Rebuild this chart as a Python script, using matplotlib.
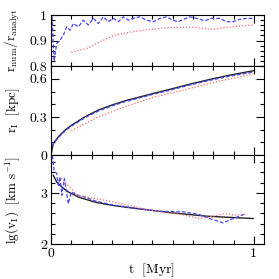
import numpy as np
import matplotlib
matplotlib.use('Agg')
import matplotlib.pyplot as plt
from matplotlib.ticker import MultipleLocator

plt.rcParams['font.family'] = 'cmr10'
plt.rcParams['mathtext.fontset'] = 'cm'
plt.rcParams['axes.unicode_minus'] = False
plt.rcParams['font.size'] = 10

# ratio r_num / r_analyt
t_ratio_num = [0.005, 0.015, 0.028, 0.044, 0.061, 0.077, 0.094, 0.11, 0.135, 0.159, 0.184,
               0.209, 0.233, 0.258, 0.282, 0.307, 0.332, 0.356, 0.381, 0.405, 0.438, 0.471,
               0.504, 0.537, 0.57, 0.60, 0.627, 0.652, 0.685, 0.718, 0.759, 0.79, 0.833,
               0.865, 0.898, 0.93, 0.964, 0.997]
ratio_num = [0.995, 0.82, 0.889, 0.902, 0.922, 0.954, 0.941, 0.967, 0.954, 0.98, 0.961,
             0.987, 0.967, 0.993, 0.974, 0.987, 0.974, 0.993, 0.98, 0.987, 0.993, 0.98,
             0.974, 0.987, 0.993, 0.98, 0.974, 0.983, 0.993, 0.987, 0.978, 0.987, 0.987,
             0.974, 0.974, 0.983, 0.987, 0.987]
t_ratio_alt = [0.10, 0.176, 0.24, 0.31, 0.356, 0.405, 0.438, 0.537, 0.60, 0.70, 0.80, 0.865, 0.93, 0.997]
ratio_alt = [0.854, 0.869, 0.895, 0.92, 0.928, 0.935, 0.939, 0.948, 0.952, 0.952, 0.944, 0.952, 0.957, 0.961]

# ionisation front radius [kpc]
t_r_an = [0.0, 0.011, 0.036, 0.069, 0.102, 0.167, 0.233, 0.299, 0.365, 0.43, 0.504,
          0.586, 0.685, 0.783, 0.882, 0.997]
r_an = [0.0, 0.092, 0.144, 0.197, 0.236, 0.301, 0.354, 0.393, 0.427, 0.454, 0.485,
        0.517, 0.558, 0.595, 0.629, 0.663]
t_r_num = [0.005, 0.011, 0.036, 0.069, 0.102, 0.167, 0.233, 0.299, 0.365, 0.43, 0.504,
           0.586, 0.685, 0.783, 0.882, 0.997]
r_num = [0.07, 0.088, 0.138, 0.19, 0.229, 0.294, 0.346, 0.386, 0.42, 0.447, 0.478,
         0.51, 0.551, 0.588, 0.621, 0.652]
t_r_alt = [0.10, 0.233, 0.365, 0.504, 0.652, 0.816, 0.997]
r_alt = [0.191, 0.301, 0.38, 0.454, 0.511, 0.577, 0.637]

# front velocity lg(v) [km/s]
t_v_an = [0.011, 0.028, 0.053, 0.085, 0.135, 0.217, 0.299, 0.381, 0.463, 0.60, 0.767, 0.997]
v_an = [3.345, 3.214, 3.117, 3.02, 2.92, 2.82, 2.76, 2.715, 2.676, 2.61, 2.546, 2.50]
t_v_num = [0.007, 0.015, 0.028, 0.036, 0.044, 0.053, 0.066, 0.085, 0.10, 0.135, 0.167,
           0.217, 0.299, 0.438, 0.537, 0.652, 0.726, 0.783, 0.849, 0.898, 0.956]
v_num = [3.73, 3.44, 3.38, 3.15, 3.31, 2.955, 3.28, 2.79, 3.02, 2.955, 2.92,
         2.845, 2.77, 2.688, 2.643, 2.63, 2.585, 2.50, 2.415, 2.50, 2.585]
t_v_alt = [0.049, 0.10, 0.126, 0.25, 0.348, 0.43, 0.537, 0.635, 0.734, 0.80, 0.857, 0.915, 0.956]
v_alt = [3.29, 3.086, 2.955, 2.87, 2.79, 2.715, 2.63, 2.585, 2.50, 2.546, 2.60, 2.565, 2.585]

blue = '#4646ff'
red = '#ff6a6a'

fig = plt.figure(figsize=(2.79, 2.79), dpi=100)
gs = fig.add_gridspec(3, 1, height_ratios=[51, 89, 89], hspace=0,
                      left=0.183, right=0.946, top=0.946, bottom=0.125)
ax1 = fig.add_subplot(gs[0])
ax2 = fig.add_subplot(gs[1], sharex=ax1)
ax3 = fig.add_subplot(gs[2], sharex=ax1)

ax1.plot(t_ratio_num, ratio_num, color=blue, ls=(0, (3, 1.5)), lw=0.9)
ax1.plot(t_ratio_alt, ratio_alt, color=red, ls=(0, (1, 1.5)), lw=0.9)

ax2.plot(t_r_an, r_an, color='#222222', lw=1.0)
ax2.plot(t_r_num, r_num, color=blue, ls=(0, (3, 1.5)), lw=0.9)
ax2.plot(t_r_alt, r_alt, color=red, ls=(0, (1, 1.5)), lw=0.9)

ax3.plot(t_v_an, v_an, color='#222222', lw=1.0)
ax3.plot(t_v_num, v_num, color=blue, ls=(0, (3, 1.5)), lw=0.9)
ax3.plot(t_v_alt, v_alt, color=red, ls=(0, (1, 1.5)), lw=0.9)

ax1.set_ylim(0.8, 1.0)
ax1.set_yticks([0.8, 0.9, 1.0], ['0.8', '0.9', '1'])
ax1.yaxis.set_minor_locator(MultipleLocator(0.02))

ax2.set_ylim(0, 0.7)
ax2.set_yticks([0, 0.3, 0.6], ['0', '0.3', '0.6'])
ax2.yaxis.set_minor_locator(MultipleLocator(0.1))

ax3.set_ylim(2, 3.74)
ax3.set_yticks([2, 3], ['2', '3'])
ax3.yaxis.set_minor_locator(MultipleLocator(0.2))

ax3.set_xlim(0, 1.05)
ax3.set_xticks([0, 1], ['0', '1'])
ax3.xaxis.set_minor_locator(MultipleLocator(0.1))

for ax in (ax1, ax2, ax3):
    ax.tick_params(which='both', direction='in', top=True, right=True, width=0.8)
    ax.tick_params(which='major', length=6)
    ax.tick_params(which='minor', length=3)
    ax.tick_params(labelsize=10, pad=3)
    for s in ax.spines.values():
        s.set_linewidth(0.8)
for ax in (ax1, ax2):
    ax.tick_params(labelbottom=False)

ax1.set_ylabel(r'$\mathrm{r_{num}/r_{analyt}}$', fontsize=9.5)
ax2.set_ylabel(r'$\mathrm{r_{I}\ \ [kpc]}$', fontsize=9.5)
ax3.set_ylabel(r'$\mathrm{lg(v_{I})\ \ [km\ s^{-1}]}$', fontsize=9.5)
ax3.set_xlabel(r'$\mathrm{t\ \ [Myr]}$', fontsize=10)
for ax in (ax1, ax2, ax3):
    ax.yaxis.set_label_coords(-0.135, 0.5)
ax3.xaxis.set_label_coords(0.47, -0.19)

fig.savefig('out.png', dpi=100)
